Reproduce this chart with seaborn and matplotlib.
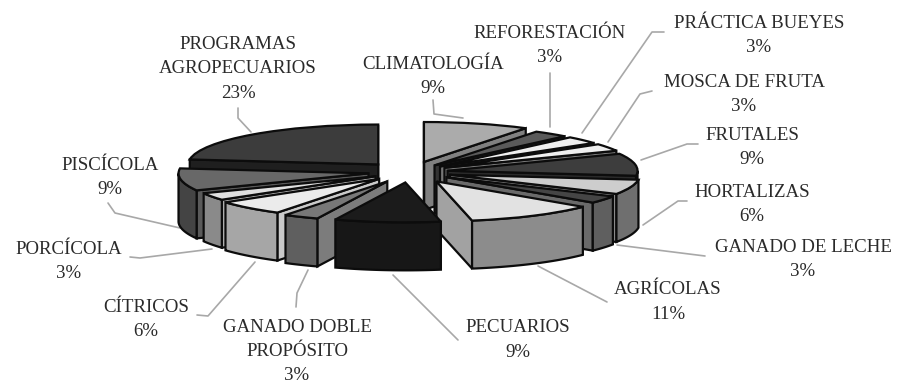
import numpy as np
import matplotlib
matplotlib.use("Agg")
import matplotlib.pyplot as plt
import seaborn as sns

categories = ["CLIMATOLOGÍA", "REFORESTACIÓN", "PRÁCTICA BUEYES", "MOSCA DE FRUTA",
              "FRUTALES", "HORTALIZAS", "GANADO DE LECHE", "AGRÍCOLAS", "PECUARIOS",
              "GANADO DOBLE\nPROPÓSITO", "CÍTRICOS", "PORCÍCOLA", "PISCÍCOLA",
              "PROGRAMAS\nAGROPECUARIOS"]
values = [9, 3, 3, 3, 9, 6, 3, 11, 9, 3, 6, 3, 9, 23]

# style
explode = [50, 40, 40, 40, 38, 42, 44, 52, 50, 50, 45, 40, 42, 48]
top_colors = ["#ababab", "#5a5a5a", "#f0f0f0", "#efefef", "#3d3d3d", "#cdcdcd", "#454545",
              "#e2e2e2", "#1b1b1b", "#787878", "#ebebeb", "#e0e0e0", "#686868", "#3c3c3c"]
outer_colors = ["#777777", "#444444", "#888888", "#888888", "#4a4a4a", "#6f6f6f", "#5f5f5f",
                "#8c8c8c", "#171717", "#5f5f5f", "#a6a6a6", "#8a8a8a", "#444444", "#2a2a2a"]
radial_colors = ["#808080", "#333333", "#777777", "#777777", "#2a2a2a", "#8a8a8a", "#6a6a6a",
                 "#a2a2a2", "#1f1f1f", "#7c7c7c", "#cacaca", "#adadad", "#5a5a5a", "#1f1f1f"]
label_xy = [(433, 64), (550, 33), (759, 23), (744, 82), (752, 135), (752, 192), (803, 247),
            (668, 290), (518, 328), (297, 327), (146, 307), (69, 249), (110, 165), (238, 44)]
leaders = [[(433, 100), (434, 114), (463, 118)],
           [(550, 73), (550, 127)],
           [(664, 32), (652, 32), (582, 133)],
           [(652, 91), (640, 94), (608, 142)],
           [(698, 144), (687, 144), (641, 160)],
           [(687, 201), (678, 201), (643, 225)],
           [(617, 245), (705, 256)],
           [(538, 266), (607, 302)],
           [(393, 275), (458, 340)],
           [(308, 270), (297, 293), (296, 307)],
           [(255, 262), (208, 316), (197, 315)],
           [(212, 249), (140, 258), (130, 257)],
           [(180, 228), (115, 213), (108, 203)],
           [(238, 108), (238, 118), (251, 132)]]

W, H = 900, 385
KY = 0.21        # vertical squash of the pie disc
DEPTH = 48 / KY  # extrusion, data units
RADIUS = 190
CX, CY = 410, 172
LINE_STEP = 24.5


def Y(py):
    return (H - py) / KY


sns.set_theme(style="white")
plt.rcParams["font.family"] = ["Liberation Serif", "DejaVu Serif"]
fig = plt.figure(figsize=(W / 100, H / 100), dpi=100, facecolor="white")
ax = fig.add_axes([0, 0, 1, 1])

wedges, _ = ax.pie(values, explode=explode, colors=top_colors, startangle=90, counterclock=False,
                   radius=RADIUS, center=(CX, Y(CY)),
                   wedgeprops=dict(edgecolor="#0c0c0c", linewidth=1.6))
ax.set_aspect("auto")
ax.set_xlim(0, W)
ax.set_ylim(0, H / KY)
ax.axis("off")

mids = [np.sin(np.radians((w.theta1 + w.theta2) / 2)) for w in wedges]
order = np.argsort(np.argsort(-np.array(mids)))
edge = dict(edgecolor="#0c0c0c", linewidth=1.6)

for i, w in enumerate(wedges):
    z = 10 + order[i]
    w.set_zorder(z + 0.5)
    (x0, y0), r = w.center, w.r
    # radial side walls, culled when facing away
    for th, normal in ((w.theta1, w.theta1 - 90), (w.theta2, w.theta2 + 90)):
        if np.sin(np.radians(normal)) < 0.02:
            xe = x0 + r * np.cos(np.radians(th))
            ye = y0 + r * np.sin(np.radians(th))
            ax.fill([x0, xe, xe, x0], [y0, ye, ye - DEPTH, y0 - DEPTH],
                    facecolor=radial_colors[i], zorder=z + 0.1, **edge)
    # outer curved wall, only the part facing the viewer
    t = np.radians(np.linspace(w.theta1, w.theta2, 240))
    t = t[np.sin(t) <= 0]
    if t.size > 1:
        xs = x0 + r * np.cos(t)
        ys = y0 + r * np.sin(t)
        ax.fill(np.r_[xs, xs[::-1]], np.r_[ys, ys[::-1] - DEPTH],
                facecolor=outer_colors[i], zorder=z + 0.3, **edge)

for name, val, (lx, ly), path in zip(categories, values, label_xy, leaders):
    px, py = zip(*path)
    ax.plot(px, [Y(p) for p in py], color="#a8a8a8", lw=1.2, zorder=2, solid_capstyle="round")
    for k, line in enumerate(name.split("\n") + [f"{val}%"]):
        ax.text(lx, Y(ly + k * LINE_STEP), line, ha="center", va="center", fontsize=13.6,
                color="#2a2a2a", zorder=40)

sns.despine(ax=ax, left=True, bottom=True)
fig.savefig("out.png", dpi=100, facecolor="white")
